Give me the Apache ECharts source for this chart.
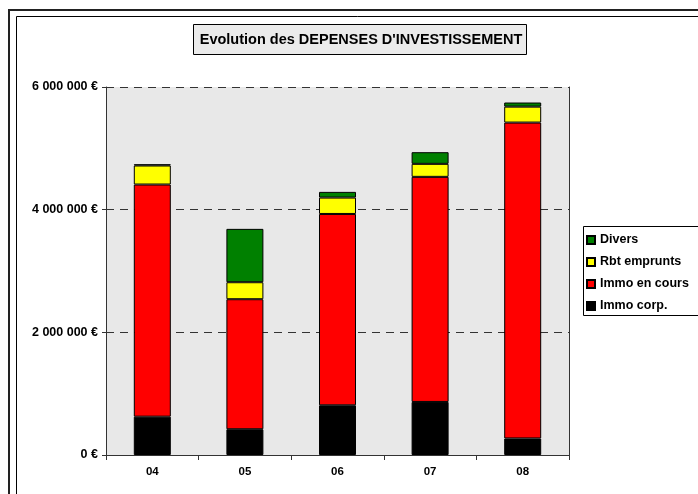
<!DOCTYPE html>
<html><head><meta charset="utf-8">
<script src="https://cdn.jsdelivr.net/npm/echarts@6/dist/echarts.min.js"></script>
<style>html,body{margin:0;padding:0;background:#fff}#c{width:698px;height:494px}</style>
</head><body><div id="c"></div>
<script>
const categories = ['04','05','06','07','08'];
const immoCorp = [625000, 420000, 810000, 865000, 270000];
const immoEnCours = [3785000, 2120000, 3120000, 3670000, 5150000];
const rbtEmprunts = [310000, 277000, 267000, 212000, 260000];
const divers = [20000, 870000, 93000, 190000, 67000];
const yTicks = [0, 2000000, 4000000, 6000000];
const titleText = "Evolution des DEPENSES D'INVESTISSEMENT";

const font = 'Arial, "Liberation Sans", sans-serif';
function fmt(v){ return String(v).replace(/\B(?=(\d{3})+(?!\d))/g,' ') + ' €'; }
const chart = echarts.init(document.getElementById('c'));
const mk = (name, data, color) => ({
  name, type:'bar', stack:'t', data, barWidth:37,
  itemStyle:{color, borderColor:'#000', borderWidth:1}
});
chart.setOption({
  animation:false,
  backgroundColor:'#fff',
  textStyle:{fontFamily:font},
  grid:{left:106, right:129, top:87, bottom:39, show:true, backgroundColor:'#e8e8e8', borderWidth:0},
  graphic:[
    {type:'rect', shape:{x:9, y:10, width:800, height:600}, style:{fill:'none', stroke:'#222', lineWidth:2}, z:100},
    {type:'rect', shape:{x:16.5, y:16.5, width:800, height:600}, style:{fill:'none', stroke:'#000', lineWidth:1}, z:100},
    {type:'rect', shape:{x:193.5, y:24.5, width:333, height:30}, style:{fill:'#ebebeb', stroke:'#000', lineWidth:1}, z:100},
    {type:'text', x:361, y:40, style:{text:titleText, textAlign:'center', textVerticalAlign:'middle', font:'bold 14.5px '+font, fill:'#000'}, z:101},
    {type:'rect', shape:{x:583.5, y:226.5, width:130, height:89}, style:{fill:'#fff', stroke:'#000', lineWidth:1}, z:50}
  ],
  legend:{
    orient:'vertical', left:586, top:233, itemWidth:8, itemHeight:8, itemGap:8, z:60, padding:0,
    icon:'rect', data:['Divers','Rbt emprunts','Immo en cours','Immo corp.'],
    textStyle:{fontWeight:'bold', fontSize:12.5, color:'#000', lineHeight:14}
  },
  xAxis:{
    type:'category', data:categories,
    axisLine:{lineStyle:{color:'#333', width:1}},
    axisTick:{show:true, length:5, lineStyle:{color:'#333'}},
    axisLabel:{fontWeight:'bold', fontSize:11.5, color:'#000', margin:11}
  },
  yAxis:[{
    type:'value', min:0, max:6000000, interval:2000000,
    axisLine:{show:true, lineStyle:{color:'#333', width:1}},
    axisTick:{show:true, length:4, lineStyle:{color:'#333'}},
    axisLabel:{fontWeight:'bold', fontSize:12.5, color:'#000', margin:8,
      formatter:v => yTicks.includes(v) ? fmt(v) : ''},
    splitLine:{show:true, lineStyle:{color:'#333', type:[8,6], width:1}}
  },{
    type:'value', position:'right', min:0, max:6000000, interval:2000000,
    axisLine:{show:true, lineStyle:{color:'#333', width:1}},
    axisTick:{show:false}, axisLabel:{show:false}, splitLine:{show:false}
  }],
  series:[
    mk('Immo corp.', immoCorp, '#000000'),
    mk('Immo en cours', immoEnCours, '#ff0000'),
    mk('Rbt emprunts', rbtEmprunts, '#ffff00'),
    mk('Divers', divers, '#008000')
  ]
});
</script></body></html>
